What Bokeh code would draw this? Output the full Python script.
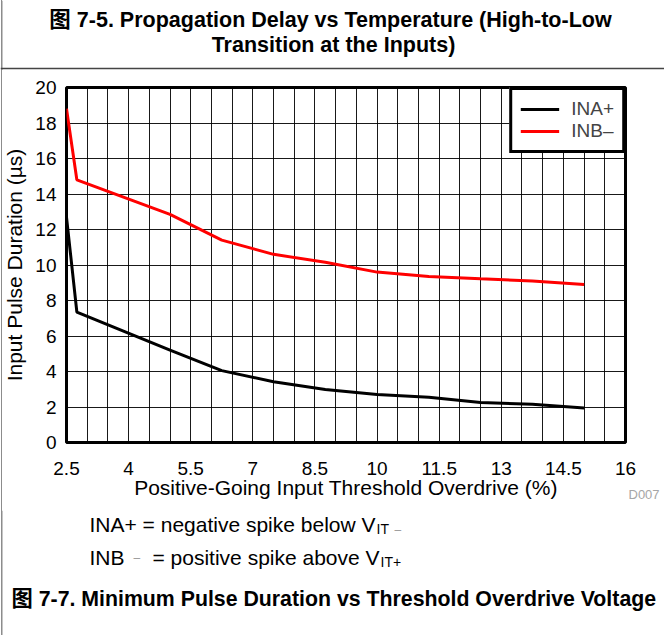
from bokeh.plotting import figure
from bokeh.layouts import column
from bokeh.models import (Range1d, FixedTicker, SingleIntervalTicker, Label, Legend,
                          LegendItem, BoxAnnotation, CustomJSTickFormatter)
from bokeh.embed import file_html
from bokeh.resources import INLINE

# ---------------- data ----------------
overdrive_pct = [2.5, 2.75, 5.0, 6.25, 7.5, 8.75, 10.0, 11.25, 12.5, 13.75, 15.0]
ina_plus_us = [12.7, 7.35, 5.2, 4.05, 3.42, 2.98, 2.7, 2.55, 2.25, 2.15, 1.95]
inb_minus_us = [18.8, 14.8, 12.85, 11.4, 10.6, 10.15, 9.6, 9.35, 9.22, 9.1, 8.9]
series_names = ["INA+", "INB\u2013"]
x_tick_labels = [2.5, 4, 5.5, 7, 8.5, 10, 11.5, 13, 14.5, 16]
y_tick_labels = [0, 2, 4, 6, 8, 10, 12, 14, 16, 18, 20]

FONT = "Liberation Sans"
CJK_FONT = "Liberation Sans, Noto Sans CJK SC"
W = 664
TOP_H, MID_H, BOT_H = 70, 440, 125
BORDER = "#8c8c8c"
BASE_SHIFT = 0.38   # Bokeh places 'alphabetic' text slightly low; compensate (in em)


def text_panel(height, y0):
    """A blank figure whose frame fills the whole canvas; data units = page pixels."""
    f = figure(width=W, height=height, x_range=Range1d(0, W),
               y_range=Range1d(y0 + height, y0),
               x_axis_location=None, y_axis_location=None,
               output_backend="svg", toolbar_location=None,
               min_border=0, min_border_left=0, min_border_right=0,
               min_border_top=0, min_border_bottom=0)
    f.frame_align = False
    f.xgrid.visible = False
    f.ygrid.visible = False
    f.outline_line_color = None
    f.background_fill_color = None
    f.border_fill_color = None
    f.add_layout(BoxAnnotation(left=1, right=2, top=y0, bottom=y0 + height,
                               fill_color=BORDER, fill_alpha=1, line_color=None))
    return f


def lab(f, text, x, y, size, bold=False, align="left", color="black", font=FONT):
    f.add_layout(Label(text=text, x=x, y=y - BASE_SHIFT * size,
                       text_font=font, text_font_size=f"{size}px",
                       text_font_style="bold" if bold else "normal",
                       text_align=align, text_baseline="alphabetic",
                       text_color=color))


# ---------------- top: figure title ----------------
top = text_panel(TOP_H, 0)
lab(top, "\u56fe 7-5. Propagation Delay vs Temperature (High-to-Low", 330, 28, 21.5,
    bold=True, align="center", font=CJK_FONT)
lab(top, "Transition at the Inputs)", 333, 53, 21.5, bold=True, align="center", font=CJK_FONT)
top.add_layout(BoxAnnotation(left=0, right=W, top=67.2, bottom=68.8,
                             fill_color="#444444", fill_alpha=1, line_color=None))

# ---------------- middle: the chart ----------------
p = figure(width=W, height=MID_H,
           x_range=Range1d(2.5, 16), y_range=Range1d(0, 20),
           output_backend="svg", toolbar_location=None,
           min_border_left=66, min_border_right=39,
           min_border_top=17, min_border_bottom=68)
p.frame_align = False
p.background_fill_color = "white"
p.border_fill_color = None
p.outline_line_color = "black"
p.outline_line_width = 3

p.xgrid.ticker = SingleIntervalTicker(interval=0.5)
p.ygrid.ticker = FixedTicker(ticks=y_tick_labels)
for g in (p.xgrid, p.ygrid):
    g.grid_line_color = "black"
    g.grid_line_width = 1
    g.grid_line_alpha = 0.9

p.xaxis.ticker = FixedTicker(ticks=x_tick_labels)
p.yaxis.ticker = FixedTicker(ticks=y_tick_labels)
p.xaxis.formatter = CustomJSTickFormatter(code="return String(tick)")
p.yaxis.formatter = CustomJSTickFormatter(code="return String(tick)")
for ax in (p.xaxis, p.yaxis):
    ax.axis_line_color = None
    ax.major_tick_line_color = None
    ax.minor_tick_line_color = None
    ax.major_tick_in = 0
    ax.major_tick_out = 0
    ax.minor_tick_out = 0
    ax.major_label_text_font = FONT
    ax.major_label_text_font_size = "19px"
    ax.major_label_text_color = "black"
    ax.axis_label_text_font = FONT
    ax.axis_label_text_font_size = "21px"
    ax.axis_label_text_font_style = "normal"
    ax.axis_label_text_color = "black"
p.xaxis.axis_label = "Positive-Going Input Threshold Overdrive (%)"
p.yaxis.axis_label = "Input Pulse Duration (\u00b5s)"
p.xaxis.major_label_standoff = 19
p.xaxis.axis_label_standoff = -2
p.yaxis.major_label_standoff = 10
p.yaxis.axis_label_standoff = 6

r1 = p.line(overdrive_pct, ina_plus_us, line_color="black", line_width=3)
r2 = p.line(overdrive_pct, inb_minus_us, line_color="#ff0000", line_width=3)

legend = Legend(items=[LegendItem(label=series_names[0], renderers=[r1]),
                       LegendItem(label=series_names[1], renderers=[r2])],
                location="top_right", margin=0, padding=8, spacing=0,
                glyph_width=39, glyph_height=20, label_height=20,
                label_standoff=12,
                label_text_font=FONT, label_text_font_size="19px",
                border_line_color="black", border_line_width=3, border_line_alpha=1,
                background_fill_color="white", background_fill_alpha=1)
p.add_layout(legend)

# "D007" tag, placed in the right side panel so that it is not clipped by the frame
p.add_layout(Label(text="D007", x=3, y=-57.3 + BASE_SHIFT * 13, x_units="screen", y_units="screen",
                   text_font=FONT, text_font_size="13px", text_color="#a6a6a6",
                   text_baseline="alphabetic"), "right")

# ---------------- bottom: notes and caption ----------------
y0 = TOP_H + MID_H
bot = text_panel(BOT_H, y0)
lab(bot, "INA+ = negative spike below V", 89, 531.7, 21)
lab(bot, "IT", 376, 534.3, 14)
lab(bot, "\u2013", 394, 533.6, 12, color="#999999")
lab(bot, "INB", 89, 565, 21)
lab(bot, "\u2013", 133, 561.6, 12, color="#999999")
lab(bot, "= positive spike above V", 152, 565, 21)
lab(bot, "IT+", 380, 566.7, 14)
lab(bot, "\u56fe 7-7. Minimum Pulse Duration vs Threshold Overdrive Voltage", 11, 606.7, 21.3,
    bold=True, font=CJK_FONT)

layout = column(top, p, bot, spacing=0,
                styles={"background": f"linear-gradient(to right, transparent 1px, {BORDER} 1px, "
                                      f"{BORDER} 2px, transparent 2px)"})
open("out.html", "w").write(file_html(layout, INLINE))
